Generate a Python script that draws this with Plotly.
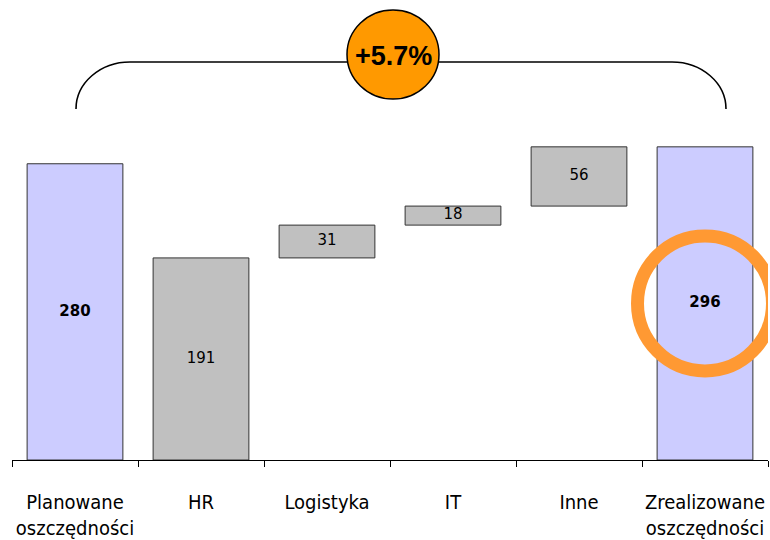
import plotly.graph_objects as go

# Savings bridge: planned -> contributions by area -> realised
categories = ["Planowane<br>oszczędności", "HR", "Logistyka", "IT", "Inne",
              "Zrealizowane<br>oszczędności"]
values = [280, 191, 31, 18, 56, 296]
bases = [0, 0, 191, 222, 240, 0]
is_total = [True, False, False, False, False, True]
growth_label = "+5.7%"

W, H = 770, 540
ML, MR, MT, MB = 12, 2, 0, 80
PX_PER_UNIT = 1.058
y_top = (H - MT - MB) / PX_PER_UNIT

total_fill = "#CCCCFF"
part_fill = "#C0C0C0"
fills = [total_fill if t else part_fill for t in is_total]

fig = go.Figure()
fig.add_trace(go.Bar(
    x=categories, y=values, base=bases,
    width=0.76,
    marker=dict(color=fills, line=dict(color="#333333", width=1)),
    textposition="none", hoverinfo="skip",
))

# value labels centred in each bar
mid = [b + v / 2 for b, v in zip(bases, values)]
labels = [f"<b>{v}</b>" if t else str(v) for v, t in zip(values, is_total)]
fig.add_trace(go.Scatter(
    x=categories, y=mid, text=labels, mode="text",
    textfont=dict(family="DejaVu Sans", size=15, color="black"),
    hoverinfo="skip", cliponaxis=False,
))

plot_w = W - ML - MR
plot_h = H - MT - MB


def px(x):
    return (x - ML) / plot_w


def py(y):
    return (H - MB - y) / plot_h


# bracket spanning planned -> realised
xl, xr, yb, yt = 76, 726, 109, 62
rx, ry = 54, 47
k = 0.552
path = (
    f"M {px(xl)},{py(yb)} "
    f"C {px(xl)},{py(yb - k * ry)} {px(xl + rx - k * rx)},{py(yt)} {px(xl + rx)},{py(yt)} "
    f"L {px(xr - rx)},{py(yt)} "
    f"C {px(xr - rx + k * rx)},{py(yt)} {px(xr)},{py(yb - k * ry)} {px(xr)},{py(yb)}"
)
fig.add_shape(type="path", path=path, xref="paper", yref="paper",
              line=dict(color="black", width=1.6), layer="above")

# badge with growth percentage
cx, cy, rxb, ryb = 393, 54.5, 46, 44.5
fig.add_shape(type="circle", xref="paper", yref="paper",
              x0=px(cx - rxb), x1=px(cx + rxb), y0=py(cy + ryb), y1=py(cy - ryb),
              fillcolor="#FF9900", line=dict(color="black", width=1.5), layer="above")
fig.add_annotation(x=px(cx), y=py(cy + 1), xref="paper", yref="paper",
                   xanchor="center", yanchor="middle",
                   text=f"<b>{growth_label}</b>", showarrow=False,
                   font=dict(family="Liberation Sans", size=27, color="black"))

# highlight ring around the realised total
ring_px = 67.5
last = len(values) - 1
fig.add_shape(type="circle", xref="x", yref="y",
              x0=last - ring_px / 126, x1=last + ring_px / 126,
              y0=mid[last] - ring_px / PX_PER_UNIT, y1=mid[last] + ring_px / PX_PER_UNIT,
              line=dict(color="#FF9933", width=13), layer="above")

fig.update_layout(
    width=W, height=H,
    margin=dict(l=ML, r=MR, t=MT, b=MB),
    paper_bgcolor="white", plot_bgcolor="white",
    showlegend=False,
    xaxis=dict(
        type="category",
        range=[-0.5, len(values) - 0.5],
        tickson="boundaries",
        tickangle=0, automargin=False,
        showline=True, linecolor="black", linewidth=1,
        ticks="outside", ticklen=6, tickcolor="black", tickwidth=1,
        showgrid=False, zeroline=False,
        tickfont=dict(family="DejaVu Sans Condensed, DejaVu Sans", size=20, color="black"),
        ticklabelstandoff=24,
    ),
    yaxis=dict(visible=False, range=[0, y_top], fixedrange=True),
)

fig.write_html("out.html")
